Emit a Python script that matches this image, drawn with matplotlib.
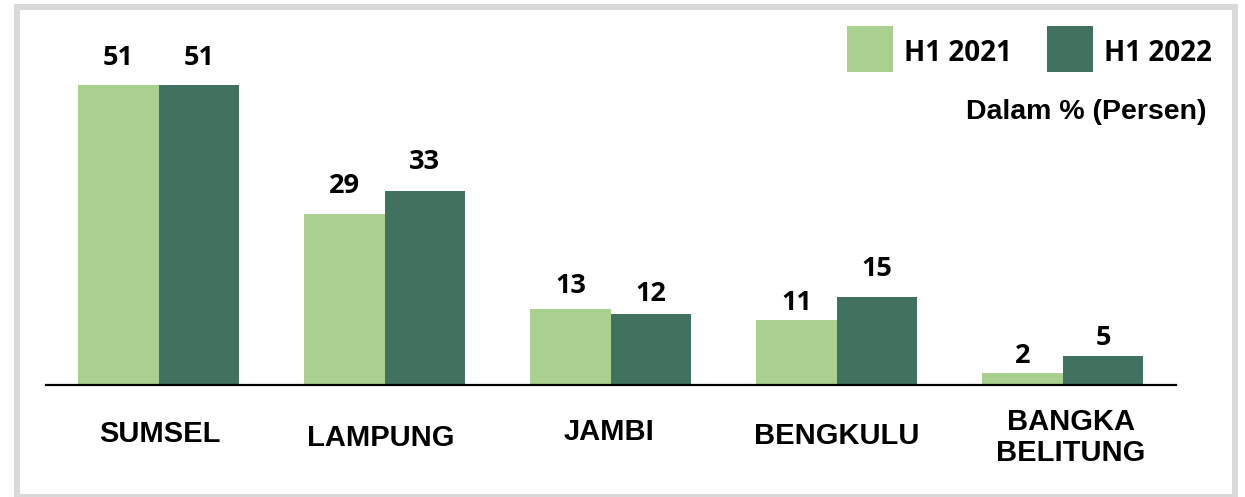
import matplotlib.pyplot as plt
from matplotlib.patches import Rectangle

# -------------------------------------------------
# data (dalam persen)
# -------------------------------------------------
regions = ['SUMSEL', 'LAMPUNG', 'JAMBI', 'BENGKULU', 'BANGKA\nBELITUNG']
h1_2021 = [51, 29, 13, 11, 2]
h1_2022 = [51, 33, 12, 15, 5]
series_names = ['H1 2021', 'H1 2022']

# label tweaks (pixels)
pad_2021 = [20, 21, 16, 10, 10]
pad_2022 = [20, 22, 13, 21, 11]
cat_dx = [1.5, -3.5, -2, 0, 8]
cat_dy = [57.5, 61, 55, 58.5, 76]

c_light = '#a9d08e'
c_dark = '#41725f'

W, H = 1245, 497
fig = plt.figure(figsize=(W / 100, H / 100), dpi=100)
fig.patch.set_facecolor('white')

# grey frame round the whole chart
fig.patches.append(Rectangle((17 / W, 0), (1234.5 - 17) / W, 1 - 7 / H,
                             transform=fig.transFigure, fill=False,
                             edgecolor='#d9d9d9', linewidth=4.32))

ax = fig.add_axes([45.5 / W, 112 / H, (1176 - 45.5) / W, 365 / H])

x = list(range(len(regions)))
bw = 0.356
ax.bar([i - bw / 2 for i in x], h1_2021, width=bw, color=c_light, label=series_names[0])
ax.bar([i + bw / 2 for i in x], h1_2022, width=bw, color=c_dark, label=series_names[1])

ax.set_xlim(-0.5, len(regions) - 0.5)
ax.set_ylim(0, 365 / 5.88)

for s in ['top', 'right', 'left']:
    ax.spines[s].set_visible(False)
ax.spines['bottom'].set_linewidth(1.6)
ax.set_xticks([])
ax.set_yticks([])

num_font = dict(family='Open Sans', weight='bold', size=19.5)
for i in x:
    ax.annotate(str(h1_2021[i]), xy=(i - bw / 2, h1_2021[i]), xytext=(0, pad_2021[i]),
                textcoords='offset pixels', ha='center', va='baseline', **num_font)
    ax.annotate(str(h1_2022[i]), xy=(i + bw / 2, h1_2022[i]), xytext=(0, pad_2022[i]),
                textcoords='offset pixels', ha='center', va='baseline', **num_font)
    ax.annotate(regions[i], xy=(i, 0), xytext=(cat_dx[i], -cat_dy[i]),
                textcoords='offset pixels', ha='center', va='baseline',
                family='Liberation Sans', weight='bold', size=21,
                linespacing=1.15, annotation_clip=False)

# legend drawn by hand: square + label
leg_x = [847, 1047]
leg_col = [c_light, c_dark]
for lx, col, name in zip(leg_x, leg_col, series_names):
    fig.patches.append(Rectangle((lx / W, 1 - 72 / H), 46 / W, 46 / H,
                                 transform=fig.transFigure, facecolor=col,
                                 edgecolor='none'))
    fig.text((lx + 57) / W, 1 - 61 / H, name, ha='left', va='baseline',
             family='Open Sans', weight='bold', size=20)

fig.text(1207 / W, 1 - 119 / H, 'Dalam % (Persen)', ha='right', va='baseline',
         family='Liberation Sans', weight='bold', size=20.5)

plt.savefig('out.png', dpi=100)
